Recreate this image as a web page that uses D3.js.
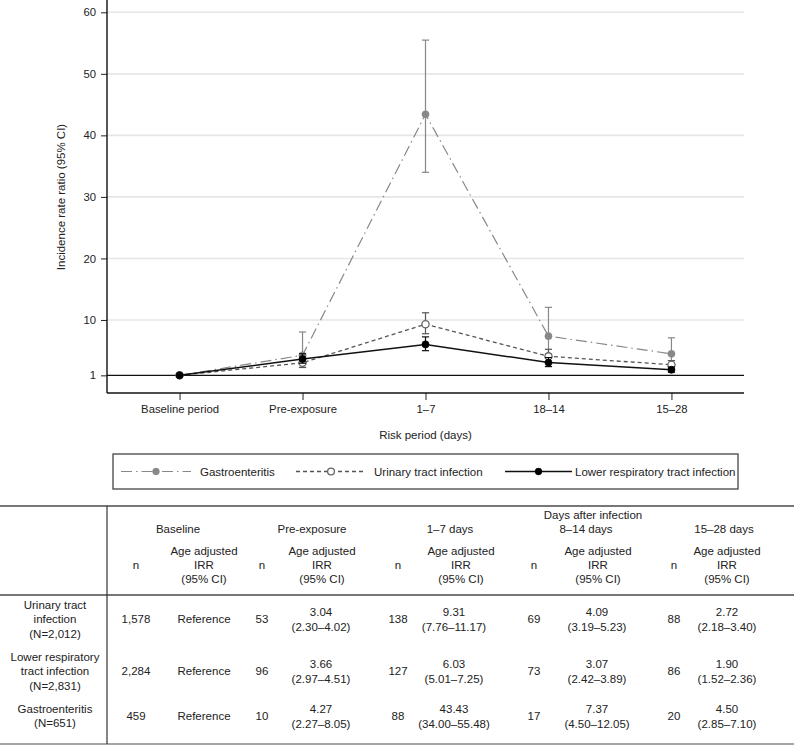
<!DOCTYPE html>
<html><head><meta charset="utf-8">
<script src="https://cdn.jsdelivr.net/npm/d3@7/dist/d3.min.js"></script>
<style>
body{margin:0;background:#fff;}
svg text{font-family:"Liberation Sans",Arial,Helvetica,sans-serif;fill:#222;}
</style></head><body>
<svg id="c" width="794" height="748"></svg>
<script>
// ---------- data ----------
const periods = ["Baseline period","Pre-exposure","1–7","18–14","15–28"];
const yTicks = [1,10,20,30,40,50,60];
const seriesNames = ["Gastroenteritis","Urinary tract infection","Lower respiratory tract infection"];

const gastroIRR = [1, 4.27, 43.43, 7.37, 4.50];
const gastroLo  = [1, 2.27, 34.00, 4.50, 2.85];
const gastroHi  = [1, 8.05, 55.48, 12.05, 7.10];
const gastroN   = [459, 10, 88, 17, 20];

const utiIRR = [1, 3.04, 9.31, 4.09, 2.72];
const utiLo  = [1, 2.30, 7.76, 3.19, 2.18];
const utiHi  = [1, 4.02, 11.17, 5.23, 3.40];
const utiN   = [1578, 53, 138, 69, 88];

const lrtiIRR = [1, 3.66, 6.03, 3.07, 1.90];
const lrtiLo  = [1, 2.97, 5.01, 2.42, 1.52];
const lrtiHi  = [1, 4.51, 7.25, 3.89, 2.36];
const lrtiN   = [2284, 96, 127, 73, 86];

const tablePeriodHeads = ["Baseline","Pre-exposure","1–7 days","8–14 days","15–28 days"];
const tableGroupHead = "Days after infection";
const rowLabels = [["Urinary tract","infection","(N=2,012)"],["Lower respiratory","tract infection","(N=2,831)"],["Gastroenteritis","(N=651)"]];

// ---------- chart ----------
const svg = d3.select("#c");
const left = 107, right = 744, axisY = 393;
const x = d3.scalePoint().domain(periods).range([left, right]).padding(0.59);
const y = d3.scaleLinear().domain([0, 60]).range([381.5, 12.3]);

// grid
svg.append("g").selectAll("line").data(yTicks.filter(d => d !== 1)).join("line")
  .attr("x1", left).attr("x2", right).attr("y1", d => y(d)).attr("y2", d => y(d))
  .attr("stroke", "#e6e6e6").attr("stroke-width", 1.6);
// reference line at 1
svg.append("line").attr("x1", left).attr("x2", right).attr("y1", y(1)).attr("y2", y(1))
  .attr("stroke", "#111").attr("stroke-width", 1.1);

// y axis
const yAxis = svg.append("g").attr("transform", `translate(${left},0)`)
  .call(d3.axisLeft(y).tickValues(yTicks).tickSize(6).tickPadding(5).tickFormat(d3.format("d")));
yAxis.select(".domain").remove();
yAxis.append("line").attr("x1", 0).attr("x2", 0).attr("y1", 0).attr("y2", axisY).attr("stroke", "#111").attr("stroke-width", 1.4);
yAxis.selectAll(".tick line").attr("stroke", "#222").attr("stroke-width", 1);
yAxis.selectAll(".tick text").attr("font-size", 11.3).style("fill", "#222");

// x axis
const xAxis = svg.append("g").attr("transform", `translate(0,${axisY})`)
  .call(d3.axisBottom(x).tickSize(7).tickPadding(5));
xAxis.select(".domain").remove();
xAxis.append("line").attr("x1", left).attr("x2", right).attr("y1", 0).attr("y2", 0).attr("stroke", "#111").attr("stroke-width", 1.4);
xAxis.selectAll(".tick line").attr("stroke", "#222").attr("stroke-width", 1);
xAxis.selectAll(".tick text").attr("font-size", 11.3).style("fill", "#222");

// titles
svg.append("text").attr("transform", "translate(64.5,197) rotate(-90)").attr("text-anchor", "middle")
  .attr("font-size", 11.5).text("Incidence rate ratio (95% CI)");
svg.append("text").attr("x", (left + right) / 2).attr("y", 439).attr("text-anchor", "middle")
  .attr("font-size", 11.5).text("Risk period (days)");

// series
const series = [
  {name: seriesNames[0], v: gastroIRR, lo: gastroLo, hi: gastroHi, color: "#888", ebc: "#888", dash: "11,4,1.5,4", width: 1.2, fill: "#888", mstroke: "#888"},
  {name: seriesNames[1], v: utiIRR, lo: utiLo, hi: utiHi, color: "#555", ebc: "#555", dash: "4,3", width: 1.3, fill: "#fff", mstroke: "#666"},
  {name: seriesNames[2], v: lrtiIRR, lo: lrtiLo, hi: lrtiHi, color: "#111", ebc: "#111", dash: null, width: 1.5, fill: "#000", mstroke: "#000"}
];
const line = d3.line().x((d, i) => x(periods[i])).y(d => y(d));
series.forEach(s => {
  const g = svg.append("g");
  g.append("path").attr("d", line(s.v)).attr("fill", "none").attr("stroke", s.color)
    .attr("stroke-width", s.width).attr("stroke-dasharray", s.dash);
  const eb = g.append("g").attr("stroke", s.ebc).attr("stroke-width", 1.2);
  d3.range(1, periods.length).forEach(i => {
    const cx = x(periods[i]);
    eb.append("line").attr("x1", cx).attr("x2", cx).attr("y1", y(s.lo[i])).attr("y2", y(s.hi[i]));
    eb.append("line").attr("x1", cx - 3.6).attr("x2", cx + 3.6).attr("y1", y(s.lo[i])).attr("y2", y(s.lo[i]));
    eb.append("line").attr("x1", cx - 3.6).attr("x2", cx + 3.6).attr("y1", y(s.hi[i])).attr("y2", y(s.hi[i]));
  });
  g.selectAll("circle").data(s.v).join("circle")
    .attr("cx", (d, i) => x(periods[i])).attr("cy", d => y(d)).attr("r", 3.6)
    .attr("fill", s.fill).attr("stroke", s.mstroke).attr("stroke-width", s.fill === "#fff" ? 1.3 : 0.5);
});

// legend
const lg = svg.append("g");
lg.append("rect").attr("x", 113).attr("y", 454).attr("width", 625).attr("height", 35)
  .attr("fill", "none").attr("stroke", "#444").attr("stroke-width", 1.3);
const legItems = [
  {s: series[0], x1: 121, x2: 191, tx: 200},
  {s: series[1], x1: 296, x2: 366, tx: 374},
  {s: series[2], x1: 505, x2: 572, tx: 575}
];
const ly = 471.5;
legItems.forEach(it => {
  lg.append("line").attr("x1", it.x1).attr("x2", it.x2).attr("y1", ly).attr("y2", ly)
    .attr("stroke", it.s.color).attr("stroke-width", it.s.width).attr("stroke-dasharray", it.s.dash);
  lg.append("circle").attr("cx", (it.x1 + it.x2) / 2).attr("cy", ly).attr("r", 3.4)
    .attr("fill", it.s.fill).attr("stroke", it.s.mstroke).attr("stroke-width", it.s.fill === "#fff" ? 1.3 : 0.5);
  lg.append("text").attr("x", it.tx).attr("y", ly + 4).attr("font-size", 11.5).text(it.s.name);
});

// ---------- table ----------
const tb = svg.append("g");
const fs = 11.5;
tb.append("line").attr("x1", 0).attr("x2", 794).attr("y1", 506).attr("y2", 506).attr("stroke", "#777").attr("stroke-width", 1.8);
tb.append("line").attr("x1", 0).attr("x2", 794).attr("y1", 595).attr("y2", 595).attr("stroke", "#777").attr("stroke-width", 1.8);
tb.append("line").attr("x1", 0).attr("x2", 794).attr("y1", 744).attr("y2", 744).attr("stroke", "#888").attr("stroke-width", 1.6);
tb.append("line").attr("x1", 107).attr("x2", 107).attr("y1", 506).attr("y2", 744).attr("stroke", "#333").attr("stroke-width", 1.2);

function txt(xc, yc, s) {
  tb.append("text").attr("x", xc).attr("y", yc + 4).attr("text-anchor", "middle").attr("font-size", fs).text(s);
}
const headX = [178, 312, 450, 586, 724];
const nX = [136, 262, 398, 534, 674];
const irrHeadX = [204, 322, 461, 598, 727];
const irrValX = [204, 321, 454, 597, 727];

txt(593, 515, tableGroupHead);
tablePeriodHeads.forEach((h, i) => {
  txt(headX[i], 529, h);
  txt(nX[i], 565, "n");
  txt(irrHeadX[i], 551, "Age adjusted");
  txt(irrHeadX[i], 565, "IRR");
  txt(irrHeadX[i], 579, "(95% CI)");
});

const rowSeries = [series[1], series[2], series[0]];
const rowN = [utiN, lrtiN, gastroN];
const rowCenters = [619, 671, 716];
const fmtN = d3.format(",");
rowLabels.forEach((lines, r) => {
  const c = rowCenters[r];
  const off = (lines.length - 1) / 2;
  lines.forEach((l, k) => txt(55, c + (k - off) * 14.5, l));
  const s = rowSeries[r];
  periods.forEach((p, i) => {
    txt(nX[i], c, fmtN(rowN[r][i]));
    if (i === 0) txt(irrValX[i], c, "Reference");
    else {
      txt(irrValX[i], c - 7.5, s.v[i].toFixed(2));
      txt(irrValX[i], c + 7.5, "(" + s.lo[i].toFixed(2) + "–" + s.hi[i].toFixed(2) + ")");
    }
  });
});
</script>
</body></html>
